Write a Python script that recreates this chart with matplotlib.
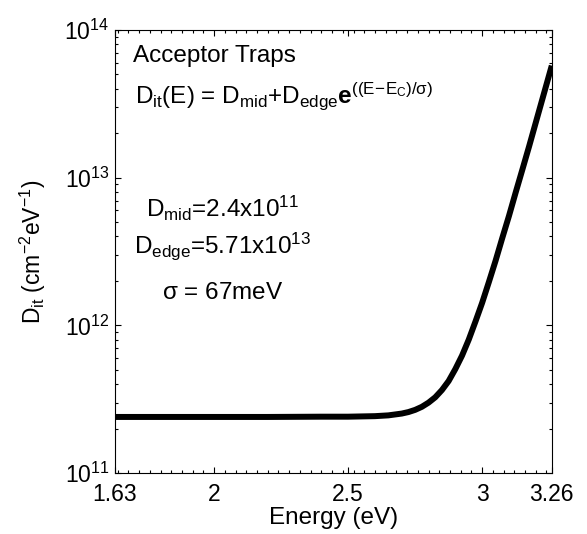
import numpy as np
import matplotlib
matplotlib.use("Agg")
import matplotlib.pyplot as plt
from matplotlib.ticker import FixedLocator, LogLocator, NullFormatter

plt.rcParams['font.family'] = ['Liberation Sans', 'DejaVu Sans']
plt.rcParams['mathtext.fontset'] = 'custom'
plt.rcParams['mathtext.rm'] = 'Liberation Sans'
plt.rcParams['mathtext.it'] = 'Liberation Sans'
plt.rcParams['mathtext.bf'] = 'Liberation Sans:bold'

# valores
energy = [1.63, 1.8, 2.0, 2.2, 2.4, 2.5, 2.55, 2.6, 2.65, 2.7, 2.725, 2.75, 2.775,
          2.8, 2.825, 2.85, 2.875, 2.9, 2.925, 2.95, 2.975, 3.0, 3.025, 3.05,
          3.075, 3.1, 3.125, 3.15, 3.175, 3.2, 3.23, 3.26]
dit = [2.40e11, 2.40e11, 2.40e11, 2.40e11, 2.41e11, 2.41e11, 2.42e11, 2.43e11,
       2.46e11, 2.53e11, 2.59e11, 2.68e11, 2.81e11, 3.00e11, 3.26e11, 3.65e11,
       4.20e11, 5.06e11, 6.24e11, 8.00e11, 1.06e12, 1.42e12, 1.96e12, 2.73e12,
       3.89e12, 5.49e12, 7.91e12, 1.13e13, 1.62e13, 2.35e13, 3.67e13, 5.73e13]

xticks = [1.63, 2, 2.5, 3, 3.26]
xticklabels = ['1.63', '2', '2.5', '3', '3.26']

fig = plt.figure(figsize=(5.87, 5.34), dpi=100)
ax = fig.add_axes([0.196, 0.114, 0.744, 0.830])

ax.plot(energy, dit, color='black', lw=4.3, solid_capstyle='butt')
ax.set_yscale('log')
ax.set_xlim(1.63, 3.26)
ax.set_ylim(1e11, 1e14)

ax.set_xticks(xticks)
ax.set_xticklabels(xticklabels)
ax.xaxis.set_minor_locator(FixedLocator(np.arange(1.64, 3.25, 0.04)))
ax.yaxis.set_major_locator(LogLocator(base=10, numticks=10))
ax.yaxis.set_minor_locator(LogLocator(base=10, subs=np.arange(2, 10), numticks=10))
ax.yaxis.set_minor_formatter(NullFormatter())

ax.tick_params(which='both', direction='in', top=True, right=True, labelsize=16.5, width=0.8)
ax.tick_params(which='major', length=4)
ax.tick_params(which='minor', length=2.5)
ax.tick_params(axis='x', pad=7)
ax.tick_params(axis='y', pad=4)
for s in ax.spines.values():
    s.set_linewidth(0.8)

ax.set_xlabel('Energy (eV)', fontsize=17.5, labelpad=1)
ax.set_ylabel(r'D$_{\mathregular{it}}$ (cm$^{\mathregular{-2}}$eV$^{\mathregular{-1}}$)',
              fontsize=16.5, labelpad=12)

ax.text(0.041, 0.928, 'Acceptor Traps', transform=ax.transAxes, fontsize=17.5)
ax.text(0.046, 0.835,
        r'D$_{\mathregular{it}}$(E) = D$_{\mathregular{mid}}$+D$_{\mathregular{edge}}$'
        r'$\mathbf{e}^{\mathregular{((E\!-\!E_C)/\sigma)}}$',
        transform=ax.transAxes, fontsize=17.5)
ax.text(0.247, 0.578, r'D$_{\mathregular{mid}}$=2.4x10$^{\mathregular{11}}$',
        transform=ax.transAxes, fontsize=17.5, ha='center')
ax.text(0.247, 0.497, r'D$_{\mathregular{edge}}$=5.71x10$^{\mathregular{13}}$',
        transform=ax.transAxes, fontsize=17.5, ha='center')
ax.text(0.247, 0.393, r'$\sigma$ = 67meV',
        transform=ax.transAxes, fontsize=17.5, ha='center')

fig.savefig('out.png', dpi=100)
